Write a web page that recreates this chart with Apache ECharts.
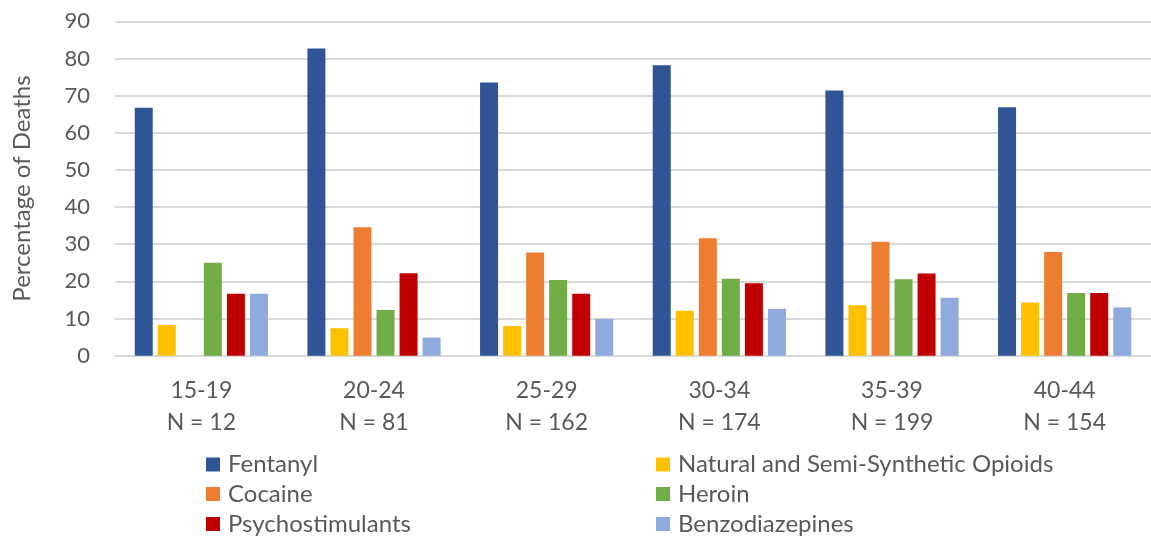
<!DOCTYPE html>
<html>
<head>
<meta charset="utf-8">
<script src="https://cdn.jsdelivr.net/npm/echarts@6/dist/echarts.min.js"></script>
<style>
  html, body { margin: 0; padding: 0; background: #ffffff; }
  #chart { width: 1151px; height: 538px; }
</style>
</head>
<body>
<div id="chart"></div>
<script>
// Age groups and number of deaths in each group
const ageGroups = ['15-19', '20-24', '25-29', '30-34', '35-39', '40-44'];
const groupCounts = [12, 81, 162, 174, 199, 154];

// Percentage of deaths involving each substance, per age group
const fentanyl = [66.7, 82.7, 73.5, 78.2, 71.4, 66.9];
const naturalOpioids = [8.3, 7.4, 8.0, 12.1, 13.6, 14.3];
const cocaine = [0, 34.6, 27.8, 31.6, 30.7, 27.9];
const heroin = [25.0, 12.3, 20.4, 20.7, 20.6, 16.9];
const psychostimulants = [16.7, 22.2, 16.7, 19.5, 22.1, 16.9];
const benzodiazepines = [16.7, 4.9, 9.9, 12.6, 15.6, 13.0];

const yTicks = { min: 0, max: 90, interval: 10 };

const FONT = 'Lato, "Open Sans", sans-serif';
const TEXT_COLOR = '#595959';

const seriesDefs = [
  { name: 'Fentanyl', data: fentanyl, color: '#2F5597' },
  { name: 'Natural and Semi-Synthetic Opioids', data: naturalOpioids, color: '#FFC000' },
  { name: 'Cocaine', data: cocaine, color: '#ED7D31' },
  { name: 'Heroin', data: heroin, color: '#70AD47' },
  { name: 'Psychostimulants', data: psychostimulants, color: '#C00000' },
  { name: 'Benzodiazepines', data: benzodiazepines, color: '#8FAADC' }
];

const categoryLabels = ageGroups.map((g, i) => g + '\nN = ' + groupCounts[i]);

// Legend laid out as two columns of three rows, one entry per legend box
const legendColumns = [206, 656];
const legendRowCenters = [464.5, 494, 524];
const legends = seriesDefs.map((s, i) => ({
  left: legendColumns[i % 2],
  top: legendRowCenters[Math.floor(i / 2)] - 12,
  padding: 0,
  itemWidth: 14,
  itemHeight: 14,
  icon: 'rect',
  textStyle: {
    fontFamily: FONT,
    fontSize: 24,
    color: TEXT_COLOR,
    lineHeight: 24,
    padding: [0, 0, 0, 3]
  },
  data: [s.name]
}));

const chart = echarts.init(document.getElementById('chart'), null, { renderer: 'canvas' });

chart.setOption({
  animation: false,
  backgroundColor: '#ffffff',
  textStyle: { fontFamily: FONT },
  grid: { left: 115, top: 21.3, width: 1043, height: 334.4 },
  legend: legends,
  xAxis: {
    type: 'category',
    data: categoryLabels,
    axisLine: { show: true, lineStyle: { color: '#D9D9D9', width: 2 } },
    axisTick: { show: false },
    axisLabel: {
      fontFamily: FONT,
      fontSize: 23,
      color: TEXT_COLOR,
      lineHeight: 32,
      margin: 19,
      interval: 0
    }
  },
  yAxis: {
    type: 'value',
    min: yTicks.min,
    max: yTicks.max,
    interval: yTicks.interval,
    name: 'Percentage of Deaths',
    nameLocation: 'middle',
    nameGap: 81,
    nameTextStyle: { fontFamily: FONT, fontSize: 24, color: TEXT_COLOR },
    axisLine: { show: false },
    axisTick: { show: false },
    axisLabel: { fontFamily: FONT, fontSize: 22, color: TEXT_COLOR, margin: 25 },
    splitLine: { lineStyle: { color: '#D9D9D9', width: 2 } }
  },
  series: seriesDefs.map(s => ({
    name: s.name,
    type: 'bar',
    data: s.data,
    barWidth: 18,
    barGap: '28%',
    itemStyle: { color: s.color }
  }))
});
</script>
</body>
</html>
